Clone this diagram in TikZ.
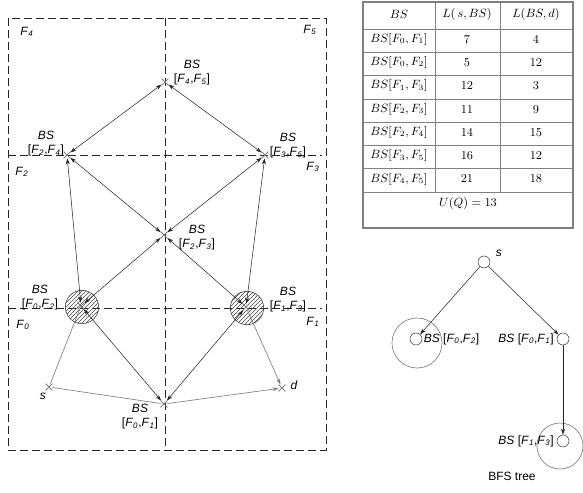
\documentclass[tikz,border=0pt]{standalone}
\usepackage{fontspec}
\setsansfont{Liberation Sans}
\usetikzlibrary{positioning,shapes.misc,patterns,arrows.meta}
\newcommand{\Fs}[1]{\textit{F}\textsubscript{\textit{#1}}}
\newcommand{\bsname}[2]{\textit{BS}\\{[}\Fs{#1},\Fs{#2}{]}}

\begin{document}
\begin{tikzpicture}[x=0.75pt, y=-0.75pt, >={Stealth[length=4.5pt,width=3pt]},
                    font=\sffamily\fontsize{9}{10.5}\selectfont,
                    zone/.style={dash pattern=on 6pt off 3pt, line width=0.5pt, black!85},
                    bspt/.style={cross out, draw=gray, minimum size=4.5pt, inner sep=0pt, line width=0.6pt},
                    hatchcirc/.style={circle, draw=black!80, pattern=north east lines, pattern color=black!70, minimum size=25pt, inner sep=0pt},
                    lbl/.style={align=center, inner sep=0pt},
                    link/.style={<->, line width=0.4pt, black!85},
                    grey link/.style={line width=0.5pt, gray},
                    treept/.style={circle, draw=black!80, minimum size=9pt, inner sep=0pt},
                    tab/.style={font=\fontsize{9}{10}\selectfont, inner sep=0pt},
                    grid/.style={gray, line width=0.5pt}]
  \useasboundingbox (0,0) rectangle (583,493);

  % zones
  \draw[zone] (8,18) rectangle (326,450);
  \draw[zone] (165,18) -- (165,450);
  \draw[zone] (8,155) -- (322,155);
  \draw[zone] (8,308) -- (322,308);
  \node (z4) at (27,32)  {\Fs{4}};
  \node (z5) at (310,30) {\Fs{5}};
  \node (z2) at (22,172) {\Fs{2}};
  \node (z3) at (313,167) {\Fs{3}};
  \node (z0) at (23,325) {\Fs{0}};
  \node (z1) at (313,322) {\Fs{1}};

  % base stations
  \node (c02) [hatchcirc] at (82,307) {};
  \node (c13) [hatchcirc] at (247,308) {};
  \node (f45) [bspt] at (165,82) {};
  \node (f24) [bspt] at (67,155) {};
  \node (f35) [bspt] at (265,155) {};
  \node (f23) [bspt] at (164,235) {};
  \node (f02) [bspt] at (81,306) {};
  \node (f13) [bspt] at (246,307) {};
  \node (f01) [bspt] at (164,404) {};
  \node (s)   [bspt] at (49,387) {};
  \node (d)   [bspt] at (282,388) {};

  \node (l45) [lbl] at (192,73)  {\bsname{4}{5}};
  \node (l24) [lbl] at (46,144)  {\bsname{2}{4}};
  \node (l35) [lbl] at (288,146) {\bsname{3}{5}};
  \node (l23) [lbl] at (197,238) {\bsname{2}{3}};
  \node (l02) [lbl] at (40,298)  {\bsname{0}{2}};
  \node (l13) [lbl] at (288,300) {\bsname{1}{3}};
  \node (l01) [lbl] at (140,417) {\bsname{0}{1}};
  \node (ls)  at (43,396) {\textit{s}};
  \node (ld)  at (294,385) {\textit{d}};

  \draw[link] (f24) -- (f45);
  \draw[link] (f45) -- (f35);
  \draw[link] (f24) -- (f23);
  \draw[link] (f35) -- (f23);
  \draw[link] (f02) -- (f24);
  \draw[link] (f13) -- (f35);
  \draw[link] (f02) -- (f23);
  \draw[link] (f13) -- (f23);
  \draw[link] (f02) -- (f01);
  \draw[link] (f13) -- (f01);
  \draw[grey link] (s) -- (f02);
  \draw[grey link] (s) -- (f01);
  \draw[grey link, ->] (f01) -- (d);
  \draw[grey link, ->] (f13) -- (d);

  % table
  \draw[gray, line width=1pt] (363,2) rectangle (573,228);
  \draw[grid] (435,2) -- (435,192);
  \draw[grid] (500,2) -- (500,192);
  \foreach \r in {0,...,7}
    \draw[grid] (363,{29+23.3*\r}) -- (573,{29+23.3*\r});
  \node (h1) [tab] at (399,14)   {$BS$};
  \node (h2) [tab] at (467,14)   {$L(\,s, BS)$};
  \node (h3) [tab] at (536,14)   {$L(BS, d)$};
  \foreach \r/\a/\b/\c/\d in {1/0/1/7/4, 2/0/2/5/12, 3/1/3/12/3, 4/2/3/11/9,
                             5/2/4/14/15, 6/3/5/16/12, 7/4/5/21/18} {
    \node (bs-\r) [tab] at (399,{29+23.3*\r-13}) {$BS[F_{\a}, F_{\b}]$};
    \node (ls-\r) [tab] at (467,{29+23.3*\r-13}) {$\c$};
    \node (ld-\r) [tab] at (536,{29+23.3*\r-13}) {$\d$};
  }
  \node (uq) [tab] at (468,203) {$U(Q) = 13$};

  % BFS tree
  \node (ts)  [treept] at (484,262) {};
  \node (t02) [treept] at (416,339) {};
  \node (t01) [treept] at (563,339) {};
  \node (t13) [treept] at (563,441) {};
  \draw[gray, line width=0.5pt] (417,343) circle (25);
  \draw[gray, line width=0.5pt] (560,446) circle (23);
  \node (tls)  [above right=-3pt and 2pt of ts] {\textit{s}};
  \node (tl02) [right=1pt of t02, inner sep=0pt] {\textit{BS} {[}\Fs{0},\Fs{2}{]}};
  \node (tl01) [left=2pt of t01, inner sep=0pt]  {\textit{BS} {[}\Fs{0},\Fs{1}{]}};
  \node (tl13) [left=2pt of t13, inner sep=0pt]  {\textit{BS} {[}\Fs{1},\Fs{3}{]}};
  \draw[->, line width=0.4pt, black!85] (ts) -- (t02);
  \draw[->, line width=0.4pt, black!85] (ts) -- (t01);
  \draw[->, line width=0.4pt, black!85] (t01) -- (t13);
  \node (cap) at (512,476) {BFS tree};
\end{tikzpicture}
\end{document}
